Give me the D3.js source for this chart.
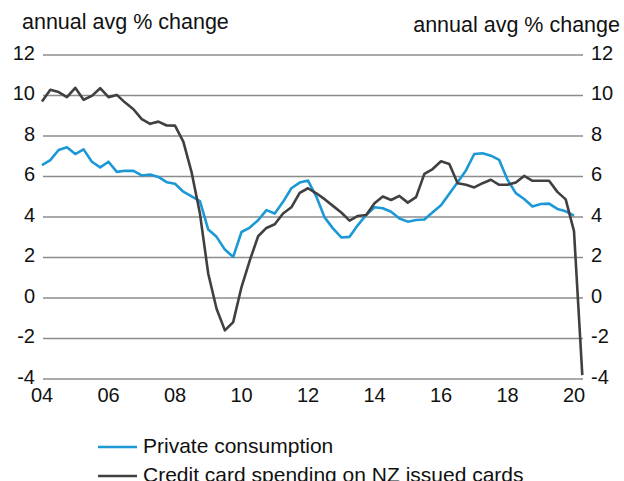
<!DOCTYPE html>
<html>
<head>
<meta charset="utf-8">
<script src="https://cdn.jsdelivr.net/npm/d3@7"></script>
<style>
  html, body { margin: 0; padding: 0; background: #fff; }
  svg { display: block; font-family: "Liberation Sans", Arial, sans-serif; }
</style>
</head>
<body>
<div id="chart"></div>
<script>
// quarterly observations, first one is 2004 Q1
const startYear = 2004;
const privateConsumption = [
  6.56, 6.81, 7.31, 7.44, 7.11, 7.34, 6.73, 6.45, 6.73, 6.23, 6.28, 6.28,
  6.05, 6.10, 5.98, 5.72, 5.64, 5.25, 5.02, 4.78, 3.38, 3.02, 2.39, 2.03,
  3.26, 3.48, 3.84, 4.34, 4.17, 4.75, 5.42, 5.70, 5.80, 5.01, 3.98, 3.44,
  2.99, 3.02, 3.60, 4.10, 4.48, 4.43, 4.26, 3.93, 3.77, 3.85, 3.88, 4.23,
  4.58, 5.15, 5.72, 6.30, 7.11, 7.15, 7.03, 6.82, 5.84, 5.18, 4.89, 4.52,
  4.64, 4.66, 4.40, 4.28, 4.07
];
const creditCard = [
  9.70, 10.28, 10.17, 9.92, 10.38, 9.79, 9.98, 10.36, 9.92, 10.03, 9.65, 9.32,
  8.83, 8.60, 8.71, 8.52, 8.51, 7.72, 6.20, 4.17, 1.20, -0.53, -1.60, -1.19,
  0.54, 1.86, 3.05, 3.46, 3.64, 4.17, 4.48, 5.19, 5.42, 5.17, 4.88, 4.55,
  4.22, 3.82, 4.05, 4.10, 4.68, 5.01, 4.84, 5.04, 4.71, 4.98, 6.13, 6.37,
  6.75, 6.62, 5.67, 5.59, 5.46, 5.67, 5.84, 5.59, 5.59, 5.70, 6.03, 5.79,
  5.79, 5.79, 5.24, 4.87, 3.30, -3.81
];
const xTickYears = [2004, 2006, 2008, 2010, 2012, 2014, 2016, 2018, 2020];
const xTickLabels = ["04", "06", "08", "10", "12", "14", "16", "18", "20"];
const yTicks = [-4, -2, 0, 2, 4, 6, 8, 10, 12];
const axisTitle = "annual avg % change";
const seriesNames = ["Private consumption", "Credit card spending on NZ issued cards"];
const seriesColors = ["#1b98d5", "#404040"];

const width = 624, height = 481;
const svg = d3.select("#chart").append("svg").attr("width", width).attr("height", height);

const x = d3.scaleLinear().domain([2004, 2020]).range([42, 574]);
const y = d3.scaleLinear().domain([-4, 12]).range([379, 55]);
const plotLeft = 43, plotRight = 583;

// gridlines
svg.append("g").selectAll("line").data(yTicks).join("line")
  .attr("x1", plotLeft).attr("x2", plotRight)
  .attr("y1", d => y(d)).attr("y2", d => y(d))
  .attr("stroke", "#8c8c8c").attr("stroke-width", 1.4);

// left / right tick labels
svg.append("g").selectAll("text").data(yTicks).join("text")
  .attr("x", 35).attr("y", d => y(d)).attr("dy", "0.23em")
  .attr("text-anchor", "end").attr("font-size", 20).attr("fill", "#111")
  .text(d => d);
svg.append("g").selectAll("text").data(yTicks).join("text")
  .attr("x", 591).attr("y", d => y(d)).attr("dy", "0.23em")
  .attr("text-anchor", "start").attr("font-size", 20).attr("fill", "#111")
  .text(d => d);

// x labels
svg.append("g").selectAll("text").data(xTickYears).join("text")
  .attr("x", d => x(d)).attr("y", 402)
  .attr("text-anchor", "middle").attr("font-size", 20).attr("fill", "#111")
  .text((d, i) => xTickLabels[i]);

// axis titles
svg.append("text").attr("x", 22).attr("y", 29).attr("font-size", 21.5).attr("fill", "#111").text(axisTitle);
svg.append("text").attr("x", 620).attr("y", 31.5).attr("text-anchor", "end")
  .attr("font-size", 21.5).attr("fill", "#111").text(axisTitle);

// series
const line = d3.line().x((d, i) => x(startYear + i / 4)).y(d => y(d));
[privateConsumption, creditCard].forEach((vals, k) => {
  svg.append("path").datum(vals)
    .attr("fill", "none").attr("stroke", seriesColors[k])
    .attr("stroke-width", 2.6).attr("stroke-linejoin", "round")
    .attr("d", line);
});

// legend
const legend = svg.append("g").selectAll("g").data(seriesNames).join("g")
  .attr("transform", (d, i) => `translate(0,${447 + i * 29})`);
legend.append("line").attr("x1", 98).attr("x2", 137).attr("y1", 0).attr("y2", 0)
  .attr("stroke", (d, i) => seriesColors[i]).attr("stroke-width", 2.6);
legend.append("text").attr("x", 143).attr("y", 0).attr("dy", "0.3em")
  .attr("font-size", 21).attr("fill", "#111").text(d => d);
</script>
</body>
</html>
